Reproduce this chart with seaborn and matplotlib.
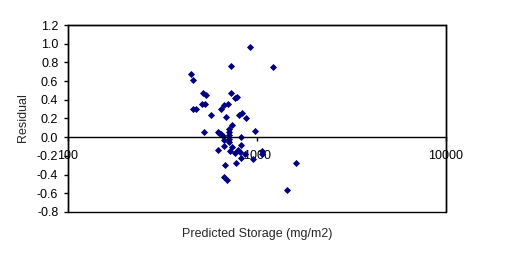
import matplotlib
matplotlib.use("Agg")
import matplotlib.pyplot as plt
import matplotlib.ticker as mticker
from matplotlib.patches import Rectangle
import seaborn as sns
import pandas as pd

predicted = [
    729, 1215, 448, 459, 516, 537, 726, 765, 784, 510, 531, 669, 702, 457, 476,
    645, 569, 686, 803, 830, 875, 918,
    733, 715, 711, 522, 976, 620, 632, 643, 659, 711, 711, 711, 669, 820,
    669, 820, 735, 620, 717, 762, 791, 810, 861, 820, 949, 1067, 1063, 772,
    1603, 675, 667, 694, 1436,
]
residual = [
    0.764, 0.753, 0.675, 0.611, 0.475, 0.453, 0.475, 0.418, 0.432, 0.357, 0.357,
    0.346, 0.357, 0.303, 0.303, 0.303, 0.239, 0.218, 0.239, 0.260, 0.207, 0.968,
    0.129, 0.093, 0.059, 0.057, 0.070, 0.059, 0.040, 0.029, 0.011, 0.021,
    -0.016, -0.048, -0.032, 0.003,
    -0.091, -0.080, -0.104, -0.136, -0.147, -0.168, -0.136, -0.158, -0.179,
    -0.222, -0.233, -0.147, -0.179, -0.275, -0.275, -0.297, -0.426, -0.458,
    -0.565,
]
x_ticks = [100, 1000, 10000]
x_tick_labels = ["100", "1000", "10000"]
y_ticks = [-0.8, -0.6, -0.4, -0.2, 0.0, 0.2, 0.4, 0.6, 0.8, 1.0, 1.2]

df = pd.DataFrame({"Predicted Storage (mg/m2)": predicted, "Residual": residual})

sns.set_style("white")
plt.rcParams["font.family"] = ["Liberation Sans", "DejaVu Sans"]

fig = plt.figure(figsize=(5.11, 2.57), dpi=100)
ax = fig.add_axes([68 / 511, 1 - 212 / 257, (446 - 68) / 511, (212 - 25) / 257])

sns.scatterplot(data=df, x="Predicted Storage (mg/m2)", y="Residual", ax=ax,
                marker="D", s=9, color="#000080", edgecolor="#000080",
                linewidth=0.6, legend=False)

ax.set_xscale("log")
ax.set_xlim(100, 10000)
ax.set_ylim(-0.8, 1.2)
ax.xaxis.set_major_locator(mticker.FixedLocator(x_ticks))
ax.xaxis.set_major_formatter(mticker.FixedFormatter(x_tick_labels))
ax.xaxis.set_minor_locator(mticker.NullLocator())
ax.set_yticks(y_ticks)
ax.yaxis.set_major_formatter(mticker.FormatStrFormatter("%.1f"))

for s in ["top", "right", "left"]:
    ax.spines[s].set_visible(True)
    ax.spines[s].set_color("black")
    ax.spines[s].set_linewidth(1.0)
ax.spines["bottom"].set_position(("data", 0))
ax.spines["bottom"].set_color("black")
ax.spines["bottom"].set_linewidth(1.0)
ax.add_patch(Rectangle((0, 0), 1, 1, transform=ax.transAxes, fill=False,
                       edgecolor="black", linewidth=1.0, clip_on=False, zorder=5))

ax.tick_params(axis="x", direction="out", length=3, width=1, pad=6,
               labelsize=9, colors="black", bottom=True)
ax.tick_params(axis="y", direction="out", length=3, width=1, pad=4,
               labelsize=9, colors="black", left=True)

ax.set_xlabel("")
ax.set_ylabel("")
fig.text(257 / 511, 1 - 234 / 257, "Predicted Storage (mg/m2)", ha="center",
         va="center", fontsize=9)
fig.text(23 / 511, 1 - 118 / 257, "Residual", ha="center", va="center",
         rotation=90, fontsize=9)

fig.savefig("out.png", dpi=100, facecolor="white")
